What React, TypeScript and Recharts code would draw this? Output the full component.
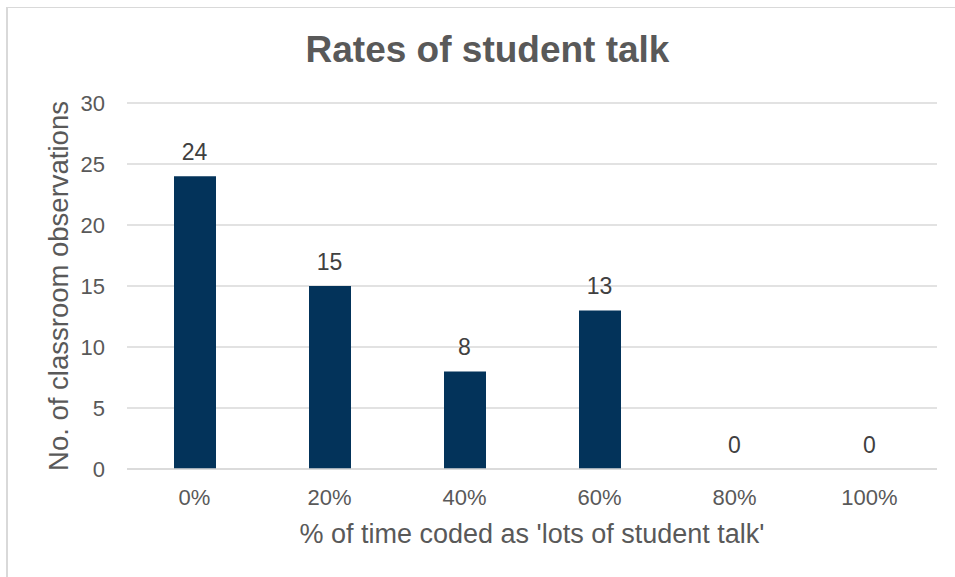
import React from "react";
import { ComposedChart, Bar, Line, CartesianGrid, LabelList, XAxis, YAxis } from "recharts";

const categories = ["0%", "20%", "40%", "60%", "80%", "100%"];
const observations = [24, 15, 8, 13, 0, 0];
const yTicks = [0, 5, 10, 15, 20, 25, 30];

const data = categories.map((name, i) => ({ name, value: observations[i] }));

const FONT = "'Liberation Sans', Arial, sans-serif";
const GREY = "#595959";
const GRID = "#d9d9d9";

export default function App() {
  return (
    <div style={{ position: "absolute", left: 0, top: 0, width: 955, height: 577, background: "#fff", overflow: "hidden", fontFamily: FONT }}>
      {/* chart frame, only the left and top edges fall inside the view */}
      <div
        style={{
          position: "absolute",
          left: 6,
          top: 7,
          width: 1000,
          height: 700,
          borderLeft: `2px solid ${GRID}`,
          borderTop: `1px solid ${GRID}`,
        }}
      />
      <div
        style={{
          position: "absolute",
          left: 0,
          width: 975,
          top: 28,
          textAlign: "center",
          fontSize: 37,
          fontWeight: "bold",
          color: GREY,
          lineHeight: "44px",
        }}
      >
        Rates of student talk
      </div>
      <div style={{ position: "absolute", left: 0, top: 0 }}>
        <ComposedChart
          width={955}
          height={577}
          data={data}
          margin={{ top: 103, right: 18, bottom: 0, left: 0 }}
          barSize={42}
        >
          <CartesianGrid vertical={false} stroke={GRID} strokeWidth={1.5} />
          <XAxis
            dataKey="name"
            height={108}
            axisLine={{ stroke: GRID, strokeWidth: 1.5 }}
            tickLine={false}
            tickSize={0}
            tickMargin={20}
            tick={{ fontSize: 22, fill: GREY, fontFamily: FONT }}
            label={{
              value: "% of time coded as 'lots of student talk'",
              position: "insideTop",
              offset: 55,
              fontSize: 27,
              fill: GREY,
              fontFamily: FONT,
            }}
          />
          <YAxis
            width={127}
            domain={[0, 30]}
            ticks={yTicks}
            axisLine={false}
            tickLine={false}
            tickSize={0}
            tickMargin={22}
            tick={{ fontSize: 22, fill: GREY, fontFamily: FONT }}
            label={{
              value: "No. of classroom observations",
              angle: -90,
              position: "insideLeft",
              offset: 58,
              fontSize: 27.5,
              fill: GREY,
              fontFamily: FONT,
              style: { textAnchor: "middle" },
            }}
          />
          <Bar dataKey="value" fill="#03335a" isAnimationActive={false} />
          {/* invisible series carrying the value labels, so zero counts get one too */}
          <Line
            dataKey="value"
            stroke="none"
            dot={false}
            activeDot={false}
            legendType="none"
            isAnimationActive={false}
          >
            <LabelList dataKey="value" position="top" offset={16} fontSize={23} fill="#404040" fontFamily={FONT} />
          </Line>
        </ComposedChart>
      </div>
    </div>
  );
}
